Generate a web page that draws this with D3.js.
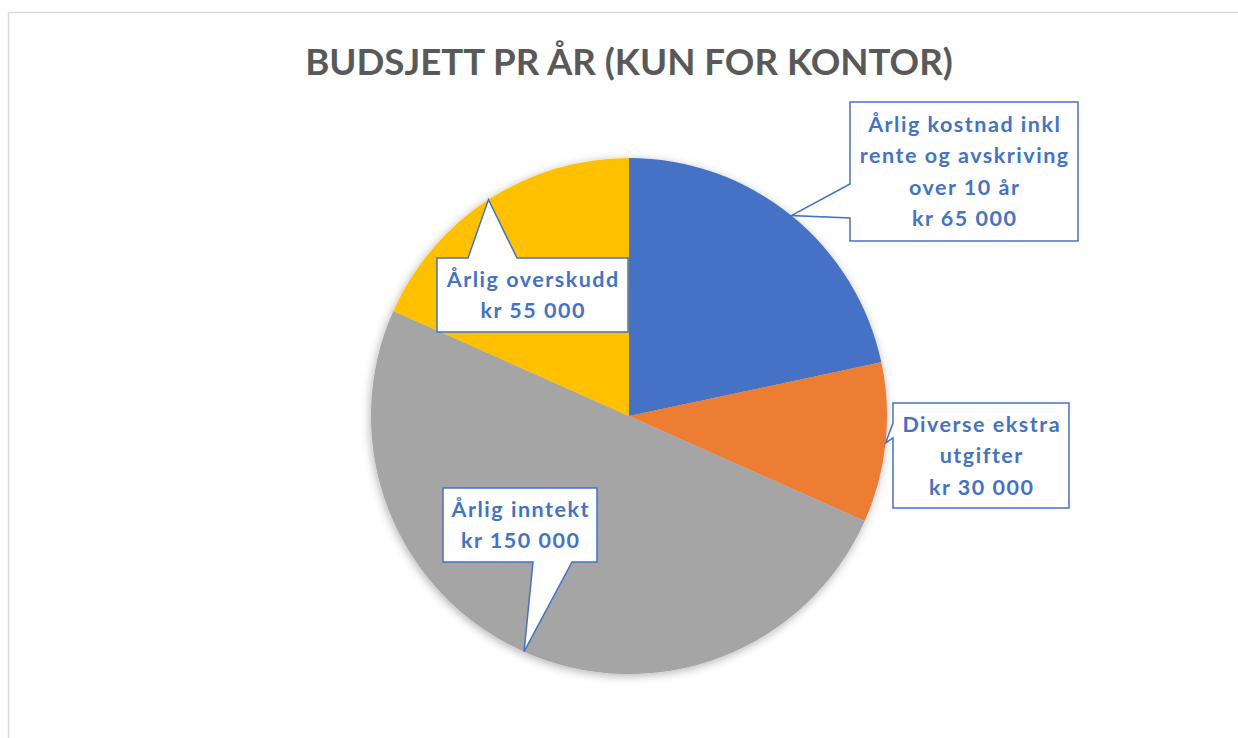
<!DOCTYPE html>
<html>
<head>
<meta charset="utf-8">
<script src="https://cdn.jsdelivr.net/npm/d3@7"></script>
<style>
  html, body { margin: 0; padding: 0; background: #fff; }
  svg { display: block; }
</style>
</head>
<body>
<div id="chart"></div>
<script>
// data
const title = "BUDSJETT PR ÅR (KUN FOR KONTOR)";
const categories = ["Årlig kostnad", "Diverse ekstra utgifter", "Årlig inntekt", "Årlig overskudd"];
const values = [65000, 30000, 150000, 55000];
const labelLines = [
  ["Årlig kostnad inkl", "rente og avskriving", "over 10 år", "kr 65 000"],
  ["Diverse ekstra", "utgifter", "kr 30 000"],
  ["Årlig inntekt", "kr 150 000"],
  ["Årlig overskudd", "kr 55 000"]
];
const colors = ["#4472C4", "#ED7D31", "#A5A5A5", "#FFC000"];

// callout boxes: rect + which side the pointer leaves from and where its base sits
const callouts = [
  {x: 850, y: 102, w: 228, h: 139, side: "left",   b0: 82,  b1: 116},
  {x: 893, y: 403, w: 176, h: 105, side: "left",   b0: 20,  b1: 35},
  {x: 443, y: 488, w: 154, h: 74,  side: "bottom", b0: 90,  b1: 129},
  {x: 437, y: 258, w: 191, h: 74,  side: "top",    b0: 31,  b1: 80}
];

const width = 1238;
const height = 738;
const cx = 629, cy = 416;
const radius = 258;

const svg = d3.select("#chart")
  .append("svg")
  .attr("width", width)
  .attr("height", height);

const defs = svg.append("defs");
defs.append("filter")
  .attr("id", "shadow")
  .attr("x", "-10%").attr("y", "-10%")
  .attr("width", "120%").attr("height", "120%")
  .append("feDropShadow")
  .attr("dx", -1).attr("dy", 2)
  .attr("stdDeviation", 5)
  .attr("flood-color", "#000")
  .attr("flood-opacity", 0.3);

// chart frame
svg.append("rect")
  .attr("x", 8.5).attr("y", 12.5)
  .attr("width", width + 20).attr("height", height + 20)
  .attr("fill", "none")
  .attr("stroke", "#d9d9d9")
  .attr("stroke-width", 1.5);

// title, fitted to the reference width
const titleText = svg.append("text")
  .attr("x", cx)
  .attr("y", 75)
  .attr("text-anchor", "middle")
  .attr("font-family", "Lato, 'Open Sans', sans-serif")
  .attr("font-weight", 700)
  .attr("font-size", 42)
  .attr("fill", "#595959")
  .text(title);
const tw = titleText.node().getComputedTextLength();
titleText.attr("font-size", 42 * 648 / tw);

const pie = d3.pie().sort(null).value(d => d);
const arcs = pie(values);

const arc = d3.arc().innerRadius(0).outerRadius(radius);
const edge = d3.arc().innerRadius(radius).outerRadius(radius);

const g = svg.append("g")
  .attr("transform", `translate(${cx},${cy})`);

g.append("g")
  .attr("filter", "url(#shadow)")
  .selectAll("path")
  .data(arcs)
  .join("path")
  .attr("d", arc)
  .attr("fill", (d, i) => colors[i]);

// callout outline: walk the rect clockwise, put the wedge in on its side
function calloutPath(c, tip) {
  const {x, y, w, h, side, b0, b1} = c;
  const p = [];
  p.push([x, y]);
  if (side === "top") { p.push([x + b0, y], tip, [x + b1, y]); }
  p.push([x + w, y]);
  p.push([x + w, y + h]);
  if (side === "bottom") { p.push([x + b1, y + h], tip, [x + b0, y + h]); }
  p.push([x, y + h]);
  if (side === "left") { p.push([x, y + b1], tip, [x, y + b0]); }
  return "M" + p.map(q => q.join(",")).join("L") + "Z";
}

const labels = svg.append("g").selectAll("g")
  .data(arcs)
  .join("g");

labels.append("path")
  .attr("d", (d, i) => {
    const t = edge.centroid(d);
    return calloutPath(callouts[i], [cx + t[0], cy + t[1]]);
  })
  .attr("fill", "#fff")
  .attr("stroke", "#4472C4")
  .attr("stroke-width", 1.5)
  .attr("stroke-linejoin", "miter");

const fontSize = 21.5;
const lineH = 31.5;

// letter spacing so "Årlig overskudd" comes out ~173px wide like the reference
const probe = svg.append("text")
  .attr("font-family", "Lato, 'Open Sans', sans-serif")
  .attr("font-weight", 700)
  .attr("font-size", fontSize)
  .text("Årlig overskudd");
const pw = probe.node().getComputedTextLength();
probe.remove();
const spacing = Math.max(0, (173 - pw) / 15);

const lbl = labels.append("text")
  .attr("text-anchor", "middle")
  .attr("font-family", "Lato, 'Open Sans', sans-serif")
  .attr("font-weight", 700)
  .attr("font-size", fontSize)
  .attr("letter-spacing", spacing)
  .attr("fill", "#4472C4");

lbl.selectAll("tspan")
  .data((d, i) => labelLines[i].map((s, k) => ({s, k, i})))
  .join("tspan")
  .attr("x", d => callouts[d.i].x + callouts[d.i].w / 2 + spacing / 2)
  .attr("y", d => {
    const c = callouts[d.i];
    const n = labelLines[d.i].length;
    const mid = c.y + c.h / 2;
    return mid + (d.k - (n - 1) / 2) * lineH + 7.5;
  })
  .text(d => d.s);
</script>
</body>
</html>
